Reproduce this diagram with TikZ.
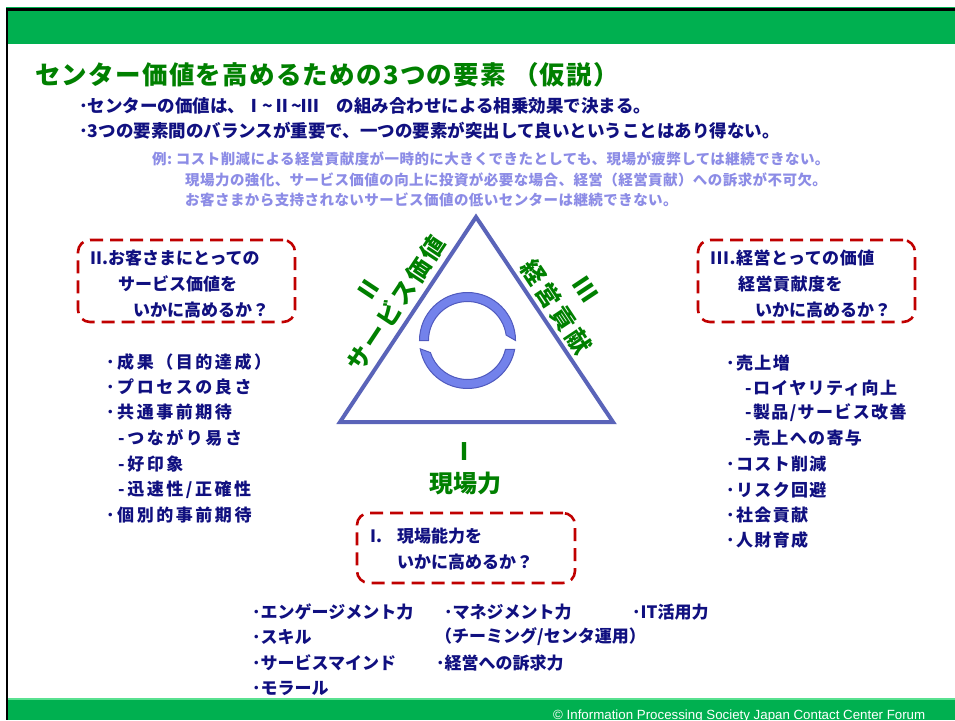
\documentclass[tikz,border=0pt]{standalone}
\usepackage{fontspec}
\setmainfont{Noto Sans CJK JP}
\newfontfamily\footfont{Liberation Sans}
\definecolor{tgreen}{RGB}{0,128,0}
\definecolor{navy}{RGB}{16,16,128}
\definecolor{lightb}{RGB}{140,140,230}
\definecolor{tri}{RGB}{90,100,185}
\definecolor{boxred}{RGB}{192,0,0}
\definecolor{ringfill}{RGB}{115,130,235}
\definecolor{ringline}{RGB}{80,90,190}
\definecolor{band}{RGB}{0,176,80}
\definecolor{bandlight}{RGB}{90,225,145}
\tikzset{
  txt/.style={anchor=west, inner sep=0pt, text=navy, font=\bfseries\fontsize{17}{17}\selectfont},
  lst/.style={txt, font=\bfseries\fontsize{17}{17}\selectfont\addfontfeatures{LetterSpace=8}},
  lstw/.style={txt, font=\bfseries\fontsize{17}{17}\selectfont\addfontfeatures{LetterSpace=15}},
  head/.style={txt, font=\bfseries\fontsize{17.5}{17.5}\selectfont},
  expl/.style={txt, text=lightb, font=\bfseries\fontsize{14.5}{14.5}\selectfont\addfontfeatures{LetterSpace=3}},
  gtxt/.style={inner sep=0pt, text=tgreen, font=\bfseries\fontsize{24}{24}\selectfont},
  redbox/.style={draw=boxred, line width=2.6pt, dash pattern=on 13pt off 7pt, rounded corners=12pt, inner sep=0pt},
  ring/.style={fill=ringfill, draw=ringline, line width=1pt}
}
\begin{document}
\begin{tikzpicture}[x=1pt,y=-1pt]
\useasboundingbox (0,0) rectangle (955,720);
\fill[white] (0,0) rectangle (955,720);
% frame and bands
\fill[band] (6,6.8) rectangle (955,8.3);
\fill[band] (8.3,11) rectangle (955,44);
\fill[bandlight] (8.3,697.5) rectangle (955,700);
\fill[band] (8.3,700) rectangle (955,720);
\fill[black] (6,8.3) rectangle (955,11);
\fill[black] (6,8.3) rectangle (8.3,720);
% title and header lines
\node[txt, text=tgreen, font=\bfseries\fontsize{25.5}{25.5}\selectfont\addfontfeatures{LetterSpace=5}] (title) at (35,75) {センター価値を高めるための3つの要素 （仮説）};
\node[head] (h1) at (79,106) {･センターの価値は、Ⅰ\textasciitilde Ⅱ\textasciitilde Ⅲ　の組み合わせによる相乗効果で決まる。};
\node[head] (h2) at (79,131) {･3つの要素間のバランスが重要で、一つの要素が突出して良いということはあり得ない。};
\node[expl] (e1) at (152,159) {例:\ コスト削減による経営貢献度が一時的に大きくできたとしても、現場が疲弊しては継続できない。};
\node[expl] (e2) at (185,180) {現場力の強化、サービス価値の向上に投資が必要な場合、経営（経営貢献）への訴求が不可欠。};
\node[expl] (e3) at (185,200) {お客さまから支持されないサービス価値の低いセンターは継続できない。};
% triangle
\coordinate (A) at (476,217);
\coordinate (B) at (613,422);
\coordinate (C) at (340,422);
\draw[tri, line width=4pt, line join=miter] (A) -- (B) -- (C) -- cycle;
% ring
\begin{scope}[shift={(467.5,340.5)}, y=1pt]
\path[ring] (180:48) arc[start angle=180, end angle=0, radius=48] -- (8:39) arc[start angle=8, end angle=180, radius=39] -- cycle;
\path[ring] (190:48) arc[start angle=190, end angle=349.5, radius=48] -- (347:39) arc[start angle=347, end angle=198, radius=39] -- cycle;
\end{scope}
% green labels
\node[gtxt, rotate=56.4] (n2) at (368.7,289.3) {Ⅱ};
\node[gtxt, rotate=56.4, font=\bfseries\fontsize{24}{24}\selectfont\addfontfeatures{LetterSpace=10}] (svc) at (396.3,303.7) {サービス価値};
\node[gtxt, rotate=-56.4] (n3) at (585.7,290) {Ⅲ};
\node[gtxt, rotate=-56.4, font=\bfseries\fontsize{24}{24}\selectfont\addfontfeatures{LetterSpace=14}] (mgt) at (556,307) {経営貢献};
\node[gtxt] (n1) at (464,452) {Ⅰ};
\node[gtxt] (gen) at (465,483) {現場力};
% dashed boxes
\node[redbox, minimum width=217pt, minimum height=82pt] (box2) at (186.5,281) {};
\node[redbox, minimum width=217pt, minimum height=82pt] (box3) at (806.5,281) {};
\node[redbox, minimum width=218pt, minimum height=70pt] (box1) at (466,548) {};
\node[txt] (b2a) at (90,258) {II.お客さまにとっての};
\node[txt] (b2b) at (118,284) {サービス価値を};
\node[txt] (b2c) at (133,310) {いかに高めるか？};
\node[txt, font=\bfseries\fontsize{17}{17}\selectfont\addfontfeatures{LetterSpace=3}] (b3a) at (710,258) {III.経営とっての価値};
\node[txt, font=\bfseries\fontsize{17}{17}\selectfont\addfontfeatures{LetterSpace=3}] (b3b) at (738,284) {経営貢献度を};
\node[txt] (b3c) at (755,310) {いかに高めるか？};
\node[txt] (b1a) at (370,536) {I.};
\node[txt] (b1b) at (397,536) {現場能力を};
\node[txt] (b1c) at (397,562) {いかに高めるか？};
% left list
\node[lstw] (l1) at (106,362) {･成果（目的達成）};
\node[lstw] (l2) at (106,387) {･プロセスの良さ};
\node[lstw] (l3) at (106,412) {･共通事前期待};
\node[lstw] (l4) at (118,438) {-つながり易さ};
\node[lstw] (l5) at (118,464) {-好印象};
\node[lstw] (l6) at (118,490) {-迅速性/正確性};
\node[lstw] (l7) at (106,515) {･個別的事前期待};
% right list
\node[lst] (r1) at (726,363) {･売上増};
\node[lst] (r2) at (745,388) {-ロイヤリティ向上};
\node[lst] (r3) at (745,413) {-製品/サービス改善};
\node[lst] (r4) at (745,438) {-売上への寄与};
\node[lst] (r5) at (726,464) {･コスト削減};
\node[lst] (r6) at (726,490) {･リスク回避};
\node[lst] (r7) at (726,515) {･社会貢献};
\node[lst] (r8) at (726,540) {･人財育成};
% bottom list
\node[txt] (c1) at (252,612) {･エンゲージメント力};
\node[txt] (c2) at (252,637) {･スキル};
\node[txt] (c3) at (252,663) {･サービスマインド};
\node[txt] (c4) at (252,688) {･モラール};
\node[txt] (d1) at (444,612) {･マネジメント力};
\node[txt] (d2) at (435,637) {（チーミング/センタ運用）};
\node[txt] (d3) at (436,663) {･経営への訴求力};
\node[txt] (f1) at (632,612) {･IT活用力};
% footer
\node[anchor=base west, inner sep=0pt, text=white, font=\footfont\fontsize{13.3}{13.3}\selectfont] (foot) at (553,719.5) {© Information Processing Society Japan Contact Center Forum};
\end{tikzpicture}
\end{document}
